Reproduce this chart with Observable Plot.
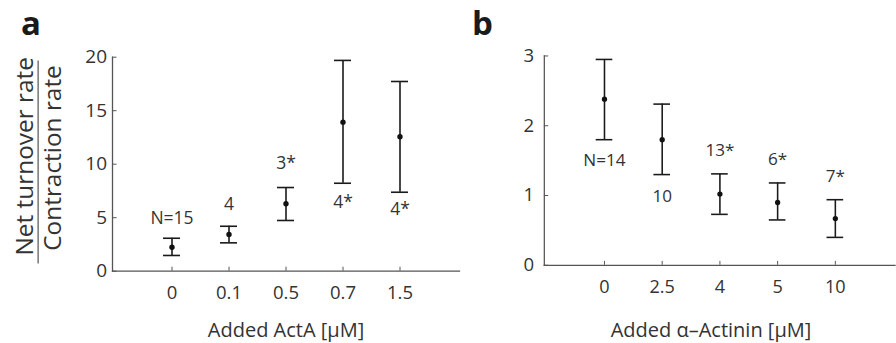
<!DOCTYPE html>
<html><head><meta charset="utf-8">
<script src="https://cdn.jsdelivr.net/npm/d3@7"></script>
<script src="https://cdn.jsdelivr.net/npm/@observablehq/plot@0.6"></script>
<style>
body{margin:0;background:#fff;overflow:hidden;}
#wrap{position:relative;width:896px;height:343px;font-family:"Open Sans",sans-serif;color:#333;overflow:hidden;}
.abs{position:absolute;white-space:nowrap;line-height:1;}
.panel{position:absolute;top:0;}
.letter{font-weight:bold;font-size:33px;color:#1a1a1a;}
.title{font-size:20px;transform:translateX(-50%);}
#ylab{left:38px;top:161.5px;width:203px;transform:translate(-50%,-50%) rotate(-90deg);font-size:24.4px;color:#333;}
#ylab div{text-align:center;padding-left:8px;box-sizing:border-box;width:100%;}
#ylab .num{padding-bottom:2px;border-bottom:1.3px solid #333;}
#ylab .den{padding-top:1px;}
</style></head><body><div id="wrap">
<div id="pa" class="panel" style="left:0"></div>
<div id="pb" class="panel" style="left:446px"></div>
<div class="abs letter" style="left:21px;top:5.7px">a</div>
<div class="abs letter" style="left:472px;top:5.7px">b</div>
<div class="abs title" style="left:286px;top:320px">Added ActA [μM]</div>
<div class="abs title" style="left:711px;top:320px">Added α–Actinin [μM]</div>
<div id="ylab" class="abs"><div class="num">Net turnover rate</div><div class="den">Contraction rate</div></div>
</div>
<script>
// Panel a: added ActA
const catsA = ["0", "0.1", "0.5", "0.7", "1.5"];
const meanA = [2.24, 3.43, 6.3, 13.93, 12.56];
const lowA  = [1.47, 2.65, 4.74, 8.22, 7.38];
const highA = [3.08, 4.2, 7.82, 19.7, 17.73];
const nA    = ["N=15", "4", "3*", "4*", "4*"];
const nYA   = [4.93, 6.23, 10.07, 6.42, 5.77];
const ticksA = [0, 5, 10, 15, 20];

// Panel b: added alpha-actinin
const catsB = ["0", "2.5", "4", "5", "10"];
const meanB = [2.38, 1.80, 1.02, 0.90, 0.67];
const lowB  = [1.80, 1.30, 0.73, 0.65, 0.40];
const highB = [2.95, 2.31, 1.31, 1.18, 0.94];
const nB    = ["N=14", "10", "13*", "6*", "7*"];
const nYB   = [1.50, 0.98, 1.65, 1.51, 1.27];
const ticksB = [0, 1, 2, 3];

function panel(cats, mean, low, high, nLab, nY, ticks, o) {
  const rows = cats.map((c, i) => ({c, m: mean[i], lo: low[i], hi: high[i], n: nLab[i], ny: nY[i]}));
  const bar = {stroke: "#1a1a1a", strokeWidth: 1.6};
  return Plot.plot({
    width: 460, height: 343,
    marginLeft: o.ml, marginRight: o.mr, marginTop: 56.7, marginBottom: 72.3,
    style: {fontFamily: "Open Sans", background: "transparent", overflow: "visible", color: "#333"},
    x: {type: "band", domain: cats, paddingInner: o.pi, paddingOuter: o.po, align: 0.5, label: null},
    y: {domain: [0, ticks[ticks.length - 1]], label: null},
    marks: [
      Plot.frame({anchor: "left", stroke: "#555", strokeWidth: 1.3}),
      Plot.frame({anchor: "bottom", stroke: "#555", strokeWidth: 1.3}),
      Plot.axisY({ticks, tickFormat: d3.format("d"), tickSize: -4.5, tickPadding: o.tp, fontSize: 19, stroke: "#555", fill: "#333", label: null}),
      Plot.axisX({tickSize: -4, tickPadding: 19, fontSize: 18.5, stroke: "#555", fill: "#333", label: null}),
      Plot.ruleX(rows, {x: "c", y1: "lo", y2: "hi", ...bar}),
      Plot.tickY(rows, {x: "c", y: "lo", ...bar}),
      Plot.tickY(rows, {x: "c", y: "hi", ...bar}),
      Plot.dot(rows, {x: "c", y: "m", r: 2.7, fill: "#111", stroke: null}),
      Plot.text(rows, {x: "c", y: "ny", text: "n", fontSize: 17.5, fill: "#333"})
    ]
  });
}
document.getElementById("pa").append(panel(catsA, meanA, lowA, highA, nA, nYA, ticksA, {ml: 112, mr: 1, pi: 0.706, po: 0.857, tp: 10}));
document.getElementById("pb").append(panel(catsB, meanB, lowB, highB, nB, nYB, ticksB, {ml: 100, mr: 1.5, pi: 0.71, po: 0.855, tp: 15}));
</script></body></html>
